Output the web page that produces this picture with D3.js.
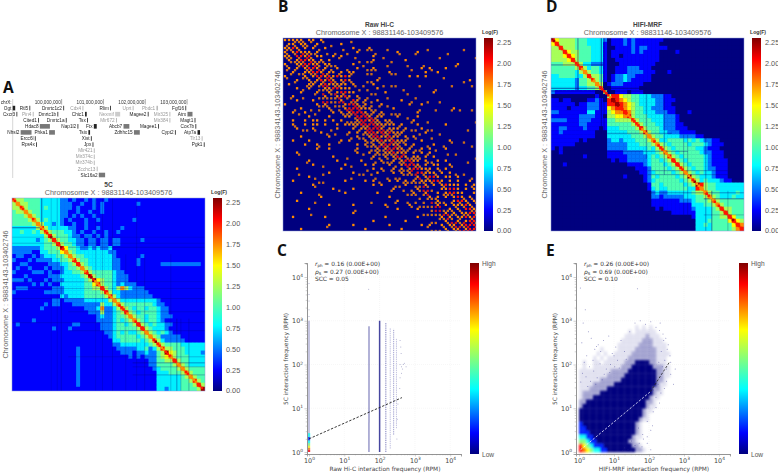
<!DOCTYPE html>
<html><head><meta charset="utf-8">
<script src="https://cdnjs.cloudflare.com/ajax/libs/d3/7.8.5/d3.min.js"></script>
<style>html,body{margin:0;background:#fff}svg{display:block}text{font-family:"Liberation Sans",sans-serif}</style>
</head><body><svg id="c" width="778" height="473"></svg>
<script>
// ---------- Heatmap data: each digit is Log(F) in steps of 0.25; "." = 0 ----------
// SC and HIFI-MRF are symmetric: each row is right-aligned to bin 47 and starts on the diagonal.
const matrix5C = [
"7554444 3333322 1211 2121121 11111111111 111111 111111","755444 3333322 2112 1121211 11111121111 111111 111111",
"75444 3433322 2121 1121211 11111111111 111111 111111","7544 3333322 1121 1211211 11111111111 111111 111111",
"754 3333322 1212 1121111 11111111111 111111 111111","75 3433321 2111 2112111 11111211111 111111 111111",
"7 5332321 1211 2111111 11111111111 111111 111111","8533333 2211 2112111 11211111111 111111 111111",
"754443 3212 1121121 12111111111 111111 111111","85444 3221 2212121 11111111111 111111 111111",
"8544 3322 1221221 22111112111 111111 111111","854 4322 1221221 22111111111 111111 111111",
"86 4432 2323223 11111111111 111111 111111","7 5433 3333332 21111111111 111111 111111",
"7544 3333333 21111112111 111111 111111","854 4333333 22111121111 111111 111111",
"85 4333333 22111121111 122222 222221","7 5433333 22111111111 111111 111111",
"8544444 32211111111 111111 111111","854444 32221111111 111111 111111",
"96544 32221111111 111111 111111","8544 32322211111 111111 111111",
"854 35753222111 111111 111111","85 33222222211 111111 111111",
"8 53222222221 111111 111111","75333333333 211111 111111",
"7544444443 221111 111111","754344344 322111 111111",
"85434444 322111 111111","7544344 322211 111111",
"754344 321111 111111","85434 332211 111111",
"8543 332111 111111","754 343211 111111",
"75 422222 111111","7 532222 211111",
"754444 333333","85544 433333",
"9654 433332","754 443333",
"85 443333","7 543333",
"754444","75444","7544","854","85","9"];
const matrixHiFi = [
"8655554 443333 2 01112121111 111000000000 00000000000","855554 443333 1 01112121111 110000000000 00000000000",
"85554 444333 1 00111121221 111100000000 00000000000","8655 444333 1 01111121211 110000100000 00000000000",
"865 444333 1 01101111111 110000000000 00000000000","85 444333 1 00111111111 110000000000 00000000000",
"7 533222 1 00011111111 100000000000 00000000000","853443 1 00111222111 000000000000 00000000000",
"75443 1 00111222211 100010000000 00000000000","8554 1 01223221111 000000000000 00000000000",
"754 1 01223211111 000000000000 00000000000","75 0 12221111100 000000000000 00000000000",
"7 0 01111111000 000000000000 00000000000","5 00111011100 000000000000 00000000000",
"58865544333 222110000000 00000000000","9876544333 322111000000 00000000000",
"987654333 322110000000 00000000000","87654433 222111000000 00000000000",
"8754433 322211000100 00000000000","854443 333222100000 00000000000",
"75444 333222100000 00000000000","7544 433222110000 00000000000",
"854 443222111000 00000000000","85 443322211110 00000000000",
"7 544333322221 10000000000","753344443434 32211000000",
"75434444344 43211100000","7543444443 32111000000",
"754344444 32211100000","85434444 43211100000",
"8543444 43211110000","854344 43211110000",
"75434 43221110000","7543 43321110000",
"954 33321110000","75 34333211000",
"9 85443333333","75443333333",
"7544333343","754333433",
"75444444","7544444",
"855444","85444","8644","865","87","8"];
// Raw Hi-C is sparse and not symmetric: full rows, trailing zeros omitted.
const matrixRaw = [
"77777.77.7",".77.77..7.....7","7787.7.7..7......7...7","7.78777.7.........7.........7....7..",
"77.8878.77..7.7.......7...............",".7.78877.7.7..........7.......7.............","7..778877.77.....7.........................7",".7.7.7887.7..7....7...7...........7.7...7..",
"..7..77887.77.7.77........7........7..7.....","7....7.7887878787..............7.7.7........","...7..7.78787.787......7......................7",".7....77.7877777.7....7.....................",
"...7..7...7788777......7...","....7...7..7.78877.......7...........7...","..7.......7..7787.7......................","...7...7......7..87.7..7.....7............",
"7.......7.7....7887.7...7......7..7.......","....7......7...7888777.....7..............7","..7..7......7.7.78887.7.7........7..........","......7....7...77.8887.77...7....7..........",
"..7..7.77.7.7.7...788787.77.....7...........","..7..7.77.7..7.7777888877777.7...7......7.....","...7...7.....7...7.778887.777.7...7........",".........7......7.7.7887878777.....7........",
"....7......7......7..78877877.7.7........","..7...7.......7.7...7.778778777...7......7...",".....7..7..7......7.7.7.78877.7.7....7.....","........7..7......7....7.78877.7..7.7...7.",
"...7..............7..7.7.778777.7.7.7......","............7.........7..7.7887.77.7.7...","......7......7.....7....7..7.78877.7..7.7..",".......7.......7....7.7...7..78887.7.77..7",
"...7..........7.......7.7..7.7.788777.7.7","...........7.....7.....7...7.7.7.88777.7.7...","......7..........................7.7887.77.7","..7............7....7.7...7.7.7.7.777887.7.7..7",
".......7..............7.7.....7....7.7.78777.7.77","............7....7.........7.....7.....77887.7.7","....7..........7.......7........7..7..7.78877..7",".........7................7.........7.7.7.787.7.7",
"...7........................7.........7...7887.7","...........7.....7.......7.....7......7.7.77787.7","......7.....................7....7.......7.7.88777",".................7......................7.7.77887.7",
"..7.......7..............7.......7.....7.7.778787","......................7.......7.........7..7.78887","...........7.....7........7.......7.7..7.77.78888","....7...............7........7..........7.77.7889"];
// Fine diagonal profile (two samples per bin)
const diag5C   = "887788777787777788898888987777788877789987778887777778888777788888777789887788878877778877778889";
const diagHiFi = "998888888888888777888777888887999988887788888777777878887777888888777789777778877878888888988888";
// Dark lines through the SC / HIFI-MRF maps: bin, from bin, to bin, opacity
const lines5C = [[7.4,0,7,.55],[9.75,0,48,.18],[11.25,0,48,.22],[12.25,14,48,.3],[20.8,0,48,.2],[22.5,0,48,.22],[25,0,48,.25],[28.3,14,48,.22],[31,0,48,.22],[33,14,48,.25],[39.5,14,48,.22],[41,30,48,.4],[42,30,48,.25],[44,30,48,.3]];
const linesHiFi = [[6.7,0,13,.5],[12.5,0,24,.65],[13.2,0,25,.5],[23.7,14,30,.4],[28.2,14,34,.35],[33,24,44,.3],[34,24,44,.3],[38.5,24,48,.4],[40,38,48,.5],[44,38,48,.25]];
const colorbarTicks = [0,0.25,0.5,0.75,1,1.25,1.5,1.75,2,2.25];

// ---------- Scatter data ----------
// Raw Hi-C columns: x value (RPM), low y, high y, line strength
const rawX = [1,50,100,150,200,250,300];
const rawYLow = [1,1,1,1,1.2,2.5,3.5];
const rawYHigh = [1000,750,1000,900,700,650,400];
const rawStrength = [0.35,0.45,0.8,0.6,0.3,0.45,0.3];
// colour foot of the x = 1 column: y breaks and density level
const footY = [1,1.12,1.25,1.4,1.6,1.85,2.2,2.7];
const footLevel = [9,8,7,6,5,4,5];
// sparse Raw Hi-C points (log10 RPM)
const rawOutX = [0,0,0,0,0,1.69,2.58,2.6,2.61,2.58,2.62,2.65,2.67,2.7,2.62,2.58,2.57,2.75,2.52,2.5,2.49];
const rawOutY = [3.1,3.25,3.45,3.6,3.85,3.72,2.55,2.4,2.25,2.0,1.95,1.9,2.0,2.03,1.8,1.7,1.45,1.95,1.1,0.75,0.3];
// HIFI-MRF density: rows from log10 y = 0 upward, columns every 0.1 log10 x
const densityE = [
"987655443333333322100000000000","976544433333333221000000000000","665443333333332210000000000000","554433333333333211000000000000",
"444333333333333321000000000000","443333333333333321000000000000","433333333333333321000000000000","333333333333333332110000000000",
"333333333333333333210000000000","333333333333333333211000000000","233333333333333333321100000000","223333333333333333322100000000",
"122233333333333333332110000000","122222333333333333333211000000","111222223333333333333221000000","111122222233333333333321100000",
"111111222222333333333322100000","111111112222233333333322110000","111111111222223333333322110000","010011111111222333333222110000",
"010011011111122233332211100000","000010101111112222222211100000","000001010011111222222211110000","000000100001111122222211100000",
"000000000001111112222111100000","000000000000111111222111000000","000000000000011111121110000000","000000000000001011111100000000",
"000000000000000010101000000000"];
const densityLevelT = [0,0,0,0,0.14,0.35,0.5,0.65,0.78,0.89];
const outX = [.04,.18,1.67,.27,.5,.12,.35,.62,.08,.22,.45,.7,.95,.15,.4,.55,.85,1.05,.3,.6,.78,1.0,1.2,.1,.2,.42,.72,.9,1.1,1.3,.05,.33,.52,.66,.88,1.02,1.15,1.35,.25,.48,1.45,1.6,1.75,1.9,2.05,2.2,2.32,2.4,2.48,2.55,2.3,2.42,2.52,2.6,2.35,2.45,2.28,2.38,2.5,2.18,2.26,2.12,2.34,2.44,2.2,2.3,1.7,1.82,1.95,2.05,2.12,1.5,1.6,1.72,1.84,1.95,2.1,2.2,2.5,2.62,2.7,1.95,2.05,1.55,1.8,1.3,1.4,1.25,1.55,2.62,2.75];
const outY = [3.75,3.25,3.73,2.75,2.41,2.95,2.6,2.3,2.5,2.2,2.35,2.55,2.25,2.05,2.1,2.45,2.65,2.4,1.95,2.02,1.9,2.2,2.55,1.8,1.72,1.85,1.78,2.0,2.1,2.3,1.6,1.62,1.7,1.65,1.82,1.95,1.92,2.12,1.5,1.55,2.75,2.95,3.0,2.92,2.98,2.85,2.95,2.7,2.6,2.45,2.78,2.55,2.35,2.2,2.3,2.1,2.05,1.95,1.9,1.7,1.55,1.42,1.35,1.45,1.25,1.12,.55,.4,.7,.5,.92,.25,.15,.2,.3,.35,.6,1.02,1.62,1.78,1.55,.2,.05,.08,.12,.1,.05,.03,.02,2.05,1.9];
const fitC = [[1,2],[430,17.5]];
const fitEWhite = [[1.1,1.12],[110,24]];
const fitEBlack = [[110,24],[380,112]];

// ---------- Gene track data: name, start Mb, end Mb, row, muted ----------
const geneNames = ["Ogt","Rtl5","Dmrtc1c2","Cdx4","Rlim","Uprt","Pbdc1","Fgf16","Cxcr3","Pin4","Dmrtc1b","Chic1","Nexmif","Magee2","Mir325","Atrx","Cited1","Dmrtc1a","Tsx","Mir672","Mir384","Magt1","Hdac8","Nap1l2","Ftx","Abcb7","Magee1","Cox7b","Nhsl2","Phka1","Tsix","Zdhhc15","Cypt2","Atp7a","Ercc6l","Xist","Tlr13","Rps4x","Jpx","Pgk1","Mir421","Mir374c","Mir374b","Zcchc13","Slc16a2"];
const geneStart = [98.83,99.23,100.04,100.50,101.16,101.70,102.27,102.96,98.92,99.31,99.90,100.56,101.28,102.06,102.58,103.01,99.44,100.10,100.61,101.30,102.58,103.18,99.48,100.38,100.77,101.48,102.31,103.20,99.02,99.70,100.64,101.73,102.71,103.25,99.36,100.70,103.35,99.39,100.74,103.40,100.77,100.77,100.77,100.84,100.89];
const geneEnd   = [98.89,99.24,100.05,100.51,101.18,101.71,102.30,102.97,98.93,99.32,99.91,100.60,101.40,102.07,102.59,103.13,99.45,100.11,100.63,101.31,102.59,103.20,99.72,100.39,100.84,101.62,102.32,103.22,99.28,99.84,100.68,101.87,102.72,103.31,99.37,100.72,103.36,99.40,100.75,103.41,100.78,100.78,100.78,100.85,101.04];
const geneRow   = [1,1,1,1,1,1,1,1,2,2,2,2,2,2,2,2,3,3,3,3,3,3,4,4,4,4,4,4,5,5,5,5,5,5,6,6,6,7,7,7,8,9,10,11,12];
const geneMuted = ["Cdx4","Uprt","Pbdc1","Pin4","Nexmif","Mir325","Mir672","Mir384","Tlr13","Mir421","Mir374c","Mir374b","Zcchc13"];
const coordTicks = [100,101,102,103];

// ---------- Helpers ----------
const svg = d3.select("#c");
const defs = svg.append("defs");
[["soft7",.7],["soft5",.5],["soft9",.9],["soft25",.25]].forEach(f=>{
  defs.append("filter").attr("id",f[0]).attr("x","-5%").attr("y","-5%").attr("width","110%").attr("height","110%")
    .append("feGaussianBlur").attr("stdDeviation",f[1]);
});
const jetStops = [0,.11,.34,.65,.89,1];
const jetColors = ["#00007f","#0000ff","#00ffff","#ffff00","#ff0000","#7f0000"];
const jet = d3.scaleLinear().domain(jetStops).range(jetColors).clamp(true);
const logF = d3.scaleLinear().domain([0,2.3]).range([0,1]);
const ramp = v => jet(logF(v));
const digit = c => c === "." ? 0 : +c;
const N = 48;
const grad = defs.append("linearGradient").attr("id","jetV").attr("x1",0).attr("x2",0).attr("y1",1).attr("y2",0);
jetStops.forEach((s,i)=>grad.append("stop").attr("offset",s).attr("stop-color",jetColors[i]));

function heat(cfg){
  const {x0,y0,size,title,yx} = cfg;
  const band = d3.scaleBand().domain(d3.range(N)).range([0,size]);
  const pos = d3.scaleLinear().domain([0,N]).range([0,size]);
  const id = "clip"+x0;
  defs.append("clipPath").attr("id",id).append("rect").attr("width",size).attr("height",size);
  const g = svg.append("g").attr("transform",`translate(${x0},${y0})`);
  const clip = g.append("g").attr("clip-path",`url(#${id})`);
  const inner = clip.append("g").attr("filter","url(#"+(cfg.full?"soft5":"soft7")+")");
  inner.append("rect").attr("x",-4).attr("y",-4).attr("width",size+8).attr("height",size+8).attr("fill",ramp(cfg.full?0:(cfg.bg*.25)));
  const cells = [], w = band.bandwidth();
  if(cfg.full){
    cfg.full.forEach((s,i)=>{ for(let j=0;j<N;j++) { const v=digit(s[j]||"."); if(v>0){ cells.push({i,j,v,o:0,k:1});
      // Hi-C contacts are symmetric: the mirrored contact is placed half a bin off the lattice
      if(j!==i) cells.push({i:j,j:i,v,o:w/2,k:.8}); } } });
  } else {
    cfg.upper.forEach((s0,i)=>{ const s=s0.replace(/ /g,"").padStart(N,"."); for(let j=i;j<N;j++){ const v=digit(s[j]);
      cells.push({i,j,v,o:0,k:1}); if(i!==j) cells.push({i:j,j:i,v,o:0,k:1}); } });
  }
  const inset=cfg.full?.85:-.2;
  inner.selectAll("rect.c").data(cells).join("rect").attr("class","c")
    .attr("x",d=>band(d.j)+inset+d.o).attr("y",d=>band(d.i)+inset+d.o).attr("width",w-2*inset).attr("height",w-2*inset)
    .attr("fill",d=>ramp(d.v*.25)).attr("opacity",d=>d.k);
  if(cfg.lines){
    const ls=[]; cfg.lines.forEach(l=>{ls.push({h:1,l});ls.push({h:0,l});});
    inner.selectAll("line.d").data(ls).join("line").attr("stroke","#000078").attr("stroke-width",1)
      .attr("stroke-opacity",d=>d.l[3])
      .attr("x1",d=>d.h?pos(d.l[1]):pos(d.l[0])).attr("x2",d=>d.h?pos(d.l[2]):pos(d.l[0]))
      .attr("y1",d=>d.h?pos(d.l[0]):pos(d.l[1])).attr("y2",d=>d.h?pos(d.l[0]):pos(d.l[2]));
  }
  if(cfg.diag){
    const dp=d3.scaleLinear().domain([0,cfg.diag.length]).range([0,size]);
    inner.selectAll("rect.g").data(cfg.diag.split("")).join("rect").attr("class","g")
      .attr("x",(d,i)=>dp(i)-.3).attr("y",(d,i)=>dp(i)-.3).attr("width",2.6).attr("height",2.6)
      .attr("fill",d=>ramp(digit(d)*.25));
  }
  g.append("rect").attr("width",size).attr("height",size).attr("fill","none").attr("stroke","#8f9bd8").attr("stroke-width",.5);
  svg.append("text").attr("x",x0+size/2).attr("y",y0-11.5).attr("text-anchor","middle").attr("font-size",6.6).attr("font-weight","bold").attr("fill","#444").text(title);
  svg.append("text").attr("x",x0+size/2).attr("y",y0-3.2).attr("text-anchor","middle").attr("font-size",7.3).attr("fill","#666").text("Chromosome X : 98831146-103409576");
  svg.append("text").attr("transform",`translate(${yx},${y0+size/2}) rotate(-90)`).attr("text-anchor","middle").attr("font-size",7.3).attr("fill","#666").text("Chromosome X : 98834143-103402746");
  const cx=x0+size+8, bw=9;
  svg.append("rect").attr("x",cx).attr("y",y0).attr("width",bw).attr("height",size).attr("fill","url(#jetV)");
  const cs=d3.scaleLinear().domain([0,2.3]).range([y0+size,y0]);
  svg.selectAll(null).data(colorbarTicks).join("text").attr("x",cx+13).attr("y",d=>Math.min(cs(d)+2.5,y0+size+1.5)).attr("font-size",7.3).attr("fill","#555").text(d=>d.toFixed(2));
  svg.append("text").attr("x",cx-2).attr("y",y0-4.5).attr("font-size",5.8).attr("font-weight","bold").attr("fill","#333").attr("textLength",16).attr("lengthAdjust","spacingAndGlyphs").text("Log(F)");
}

heat({x0:12,y0:198,size:193,title:"5C",yx:8,upper:matrix5C,bg:1,diag:diag5C,lines:lines5C});
heat({x0:283,y0:38,size:193,title:"Raw Hi-C",yx:280,full:matrixRaw});
heat({x0:551,y0:38,size:193,title:"HIFI-MRF",yx:547,upper:matrixHiFi,bg:0,diag:diagHiFi,lines:linesHiFi});

// ---------- Scatter panels ----------
function scatter(cfg){
  const {left,right,top,bottom,x10,xdec,xlabel} = cfg;
  const y1=452, ydec=43.75;
  const x=d3.scaleLog().domain([Math.pow(10,(left-x10)/xdec),Math.pow(10,(right-x10)/xdec)]).range([left,right]);
  const y=d3.scaleLog().domain([Math.pow(10,(y1-bottom)/ydec),Math.pow(10,(y1-top)/ydec)]).range([bottom,top]);
  const powers=[1,10,100,1000,10000];
  const minors=[]; powers.forEach(p=>[2,3,4,5,6,7,8,9].forEach(m=>{if(p*m<x.domain()[1])minors.push(p*m);}));
  const g=svg.append("g");
  g.selectAll("line.gx").data(powers.slice(1)).join("line").attr("x1",d=>x(d)).attr("x2",d=>x(d)).attr("y1",top).attr("y2",bottom).attr("stroke","#eee").attr("stroke-width",.5).attr("stroke-dasharray","1 1");
  g.selectAll("line.gy").data(powers.slice(1)).join("line").attr("x1",left).attr("x2",right).attr("y1",d=>y(d)).attr("y2",d=>y(d)).attr("stroke","#eee").attr("stroke-width",.5).attr("stroke-dasharray","1 1");
  cfg.draw(svg.append("g"),x,y);
  const sup=sel=>sel.selectAll(".tick text").each(function(d){const t=d3.select(this);t.text("10").attr("font-size",6.4).attr("fill","#444").attr("style","font-family:'DejaVu Sans'");t.append("tspan").attr("dy",-2.4).attr("font-size",4.4).text(Math.round(Math.log10(d)));});
  const ax=svg.append("g").attr("transform",`translate(0,${bottom})`).call(d3.axisBottom(x).tickValues(powers).tickSize(2.5).tickPadding(1.5).tickFormat(()=>"10"));
  sup(ax);
  const axm=svg.append("g").attr("transform",`translate(0,${bottom})`).call(d3.axisBottom(x).tickValues(minors).tickSize(1.3).tickFormat(""));
  const ay=svg.append("g").attr("transform",`translate(${left},0)`).call(d3.axisLeft(y).tickValues(powers).tickSize(2.5).tickPadding(1.5).tickFormat(()=>"10"));
  sup(ay);
  const aym=svg.append("g").attr("transform",`translate(${left},0)`).call(d3.axisLeft(y).tickValues(minors.filter(m=>m<y.domain()[1])).tickSize(1.3).tickFormat(""));
  [ax,axm,ay,aym].forEach(a=>{a.selectAll("path").attr("stroke","#8a8a8a").attr("stroke-width",.7);a.selectAll("line").attr("stroke","#8a8a8a").attr("stroke-width",.4);});
  svg.append("text").attr("x",(left+right)/2+1).attr("y",471).attr("text-anchor","middle").attr("style","font-family:'DejaVu Sans'").attr("font-size",5.9).attr("fill","#444").text(xlabel);
  svg.append("text").attr("transform",`translate(${left-19},359) rotate(-90)`).attr("text-anchor","middle").attr("style","font-family:'DejaVu Sans'").attr("font-size",5.9).attr("fill","#444").text("5C interaction frequency (RPM)");
  const st=(yy,sym,sub,val)=>{const t=svg.append("text").attr("x",left+8).attr("y",yy).attr("style","font-family:'DejaVu Sans'").attr("font-size",5.9).attr("fill","#333");
    if(sym){t.append("tspan").attr("font-style","italic").text(sym);t.append("tspan").attr("dy",1.4).attr("font-size",4).text(sub);t.append("tspan").attr("dy",-1.4).text(" "+val);} else t.text(val);};
  st(266,"r","ph","= "+cfg.r); st(274,"ρ","S","= "+cfg.rho); st(281,null,null,"SCC = "+cfg.scc);
  const cbx=cfg.cbx;
  svg.append("rect").attr("x",cbx).attr("y",263).attr("width",9).attr("height",191).attr("fill","url(#jetV)");
  svg.append("text").attr("x",cbx+12).attr("y",266).attr("font-size",6.6).attr("fill","#555").text("High");
  svg.append("text").attr("x",cbx+12).attr("y",457).attr("font-size",6.6).attr("fill","#555").text("Low");
}

scatter({left:307,right:461,top:263,bottom:454,x10:309,xdec:35.3,cbx:470,xlabel:"Raw Hi-C interaction frequency (RPM)",r:"0.16 (0.00E+00)",rho:"0.27 (0.00E+00)",scc:"0.05",
 draw(p0,x,y){
  const p=p0.append("g").attr("filter","url(#soft25)");
  const rows=rawX.map((v,i)=>({v,lo:rawYLow[i],hi:rawYHigh[i],s:rawStrength[i],i}));
  p.selectAll("line.s").data(rows).join("line").attr("x1",d=>x(d.v)).attr("x2",d=>x(d.v)+.01).attr("y1",d=>y(d.lo)).attr("y2",d=>y(d.hi))
   .attr("stroke","#1b1b8a").attr("stroke-opacity",d=>d.s).attr("stroke-width",d=>d.i<3?1.5:.9).attr("stroke-dasharray",d=>d.i>2?"1.3 .9":null);
  p.selectAll("rect.foot").data(footLevel).join("rect").attr("x",x(1)-1).attr("width",2.2)
   .attr("y",(d,i)=>y(footY[i+1])).attr("height",(d,i)=>y(footY[i])-y(footY[i+1])).attr("fill",d=>jet(densityLevelT[d])).attr("opacity",.75);
  p.selectAll("circle").data(rawOutX).join("circle").attr("cx",d=>x(10**d)).attr("cy",(d,i)=>y(10**rawOutY[i])).attr("r",.5).attr("fill","#55559a").attr("opacity",.55);
  const ln=d3.line().x(d=>x(d[0])).y(d=>y(d[1]));
  p.append("path").attr("d",ln(fitC)).attr("stroke","#222").attr("stroke-width",.9).attr("stroke-dasharray","2.4 1.6").attr("fill","none");
 }});

scatter({left:576,right:730,top:263,bottom:454,x10:579,xdec:35,cbx:739,xlabel:"HIFI-MRF interaction frequency (RPM)",r:"0.26 (0.00E+00)",rho:"0.69 (0.00E+00)",scc:"0.10",
 draw(p0,x,y){
  const p=p0.append("g").attr("filter","url(#soft9)");
  const cells=[]; densityE.forEach((s,k)=>s.split("").forEach((c,j)=>{if(c!=="0")cells.push({j,k,d:+c});}));
  p.selectAll("rect").data(cells).join("rect")
   .attr("x",d=>x(10**(d.j/10))).attr("width",d=>x(10**((d.j+1)/10))-x(10**(d.j/10))+.3)
   .attr("y",d=>y(10**((d.k+1)/10))).attr("height",d=>y(10**(d.k/10))-y(10**((d.k+1)/10))+.3)
   .attr("fill",d=>jet(densityLevelT[d.d])).attr("fill-opacity",d=>d.d===1?.1:d.d===2?.32:1);
  const q=p0.append("g").attr("filter","url(#soft25)");
  q.selectAll("circle").data(outX).join("circle").attr("cx",d=>x(10**d)).attr("cy",(d,i)=>y(10**outY[i])).attr("r",.5).attr("fill","#303090").attr("opacity",.55);
  const ln=d3.line().x(d=>x(d[0])).y(d=>y(d[1]));
  q.append("path").attr("d",ln(fitEWhite)).attr("stroke","#eef").attr("stroke-width",.8).attr("stroke-dasharray","2.4 1.6").attr("fill","none");
  q.append("path").attr("d",ln(fitEBlack)).attr("stroke","#222").attr("stroke-width",.8).attr("stroke-dasharray","2.4 1.6").attr("fill","none");
 }});

// ---------- Gene track ----------
const mb=d3.scaleLinear().domain([98.83,103.41]).range([12.7,204.2]);
const trackTop=d3.scaleLinear().domain([0,12]).range([102,175]);
const track=svg.append("g").attr("filter","url(#soft25)");
track.append("line").attr("x1",mb(98.83)).attr("x2",mb(98.83)+.01).attr("y1",99).attr("y2",178).attr("stroke","#bbb").attr("stroke-width",.6);
track.append("text").attr("x",mb(98.83)-1).attr("y",trackTop(0)+1.6).attr("text-anchor","end").attr("font-size",4.7).attr("fill","#222").text("chrX:");
coordTicks.forEach(t=>{
  track.append("line").attr("x1",mb(t)).attr("x2",mb(t)+.01).attr("y1",99).attr("y2",104.5).attr("stroke","#555").attr("stroke-width",.5);
  track.append("text").attr("x",mb(t)-.8).attr("y",trackTop(0)+1.6).attr("text-anchor","end").attr("font-size",4.7).attr("fill","#333").text(d3.format(",")(t*1e6));
});
geneNames.forEach((n,i)=>{
  const muted=geneMuted.includes(n), c=muted?"#aaa":"#222";
  const yy=trackTop(geneRow[i]), a=mb(geneStart[i]), b=mb(geneEnd[i]);
  track.append("text").attr("x",a-1.3).attr("y",yy+1.6).attr("text-anchor","end").attr("font-size",4.7).attr("fill",muted?"#999":"#222").text(n);
  track.append("rect").attr("x",a).attr("y",yy-2.3).attr("width",Math.max(b-a,.8)).attr("height",4.6).attr("fill",c).attr("fill-opacity",b-a>3?.6:1);
});

// ---------- Panel letters ----------
[["A",3,93],["B",278,12],["C",277,256],["D",546,12],["E",546,256]].forEach(l=>
  svg.append("text").attr("x",l[1]).attr("y",l[2]).attr("style","font-family:'Open Sans'").attr("font-weight","bold").attr("font-size",15.5).attr("fill","#111").text(l[0]));
</script></body></html>
